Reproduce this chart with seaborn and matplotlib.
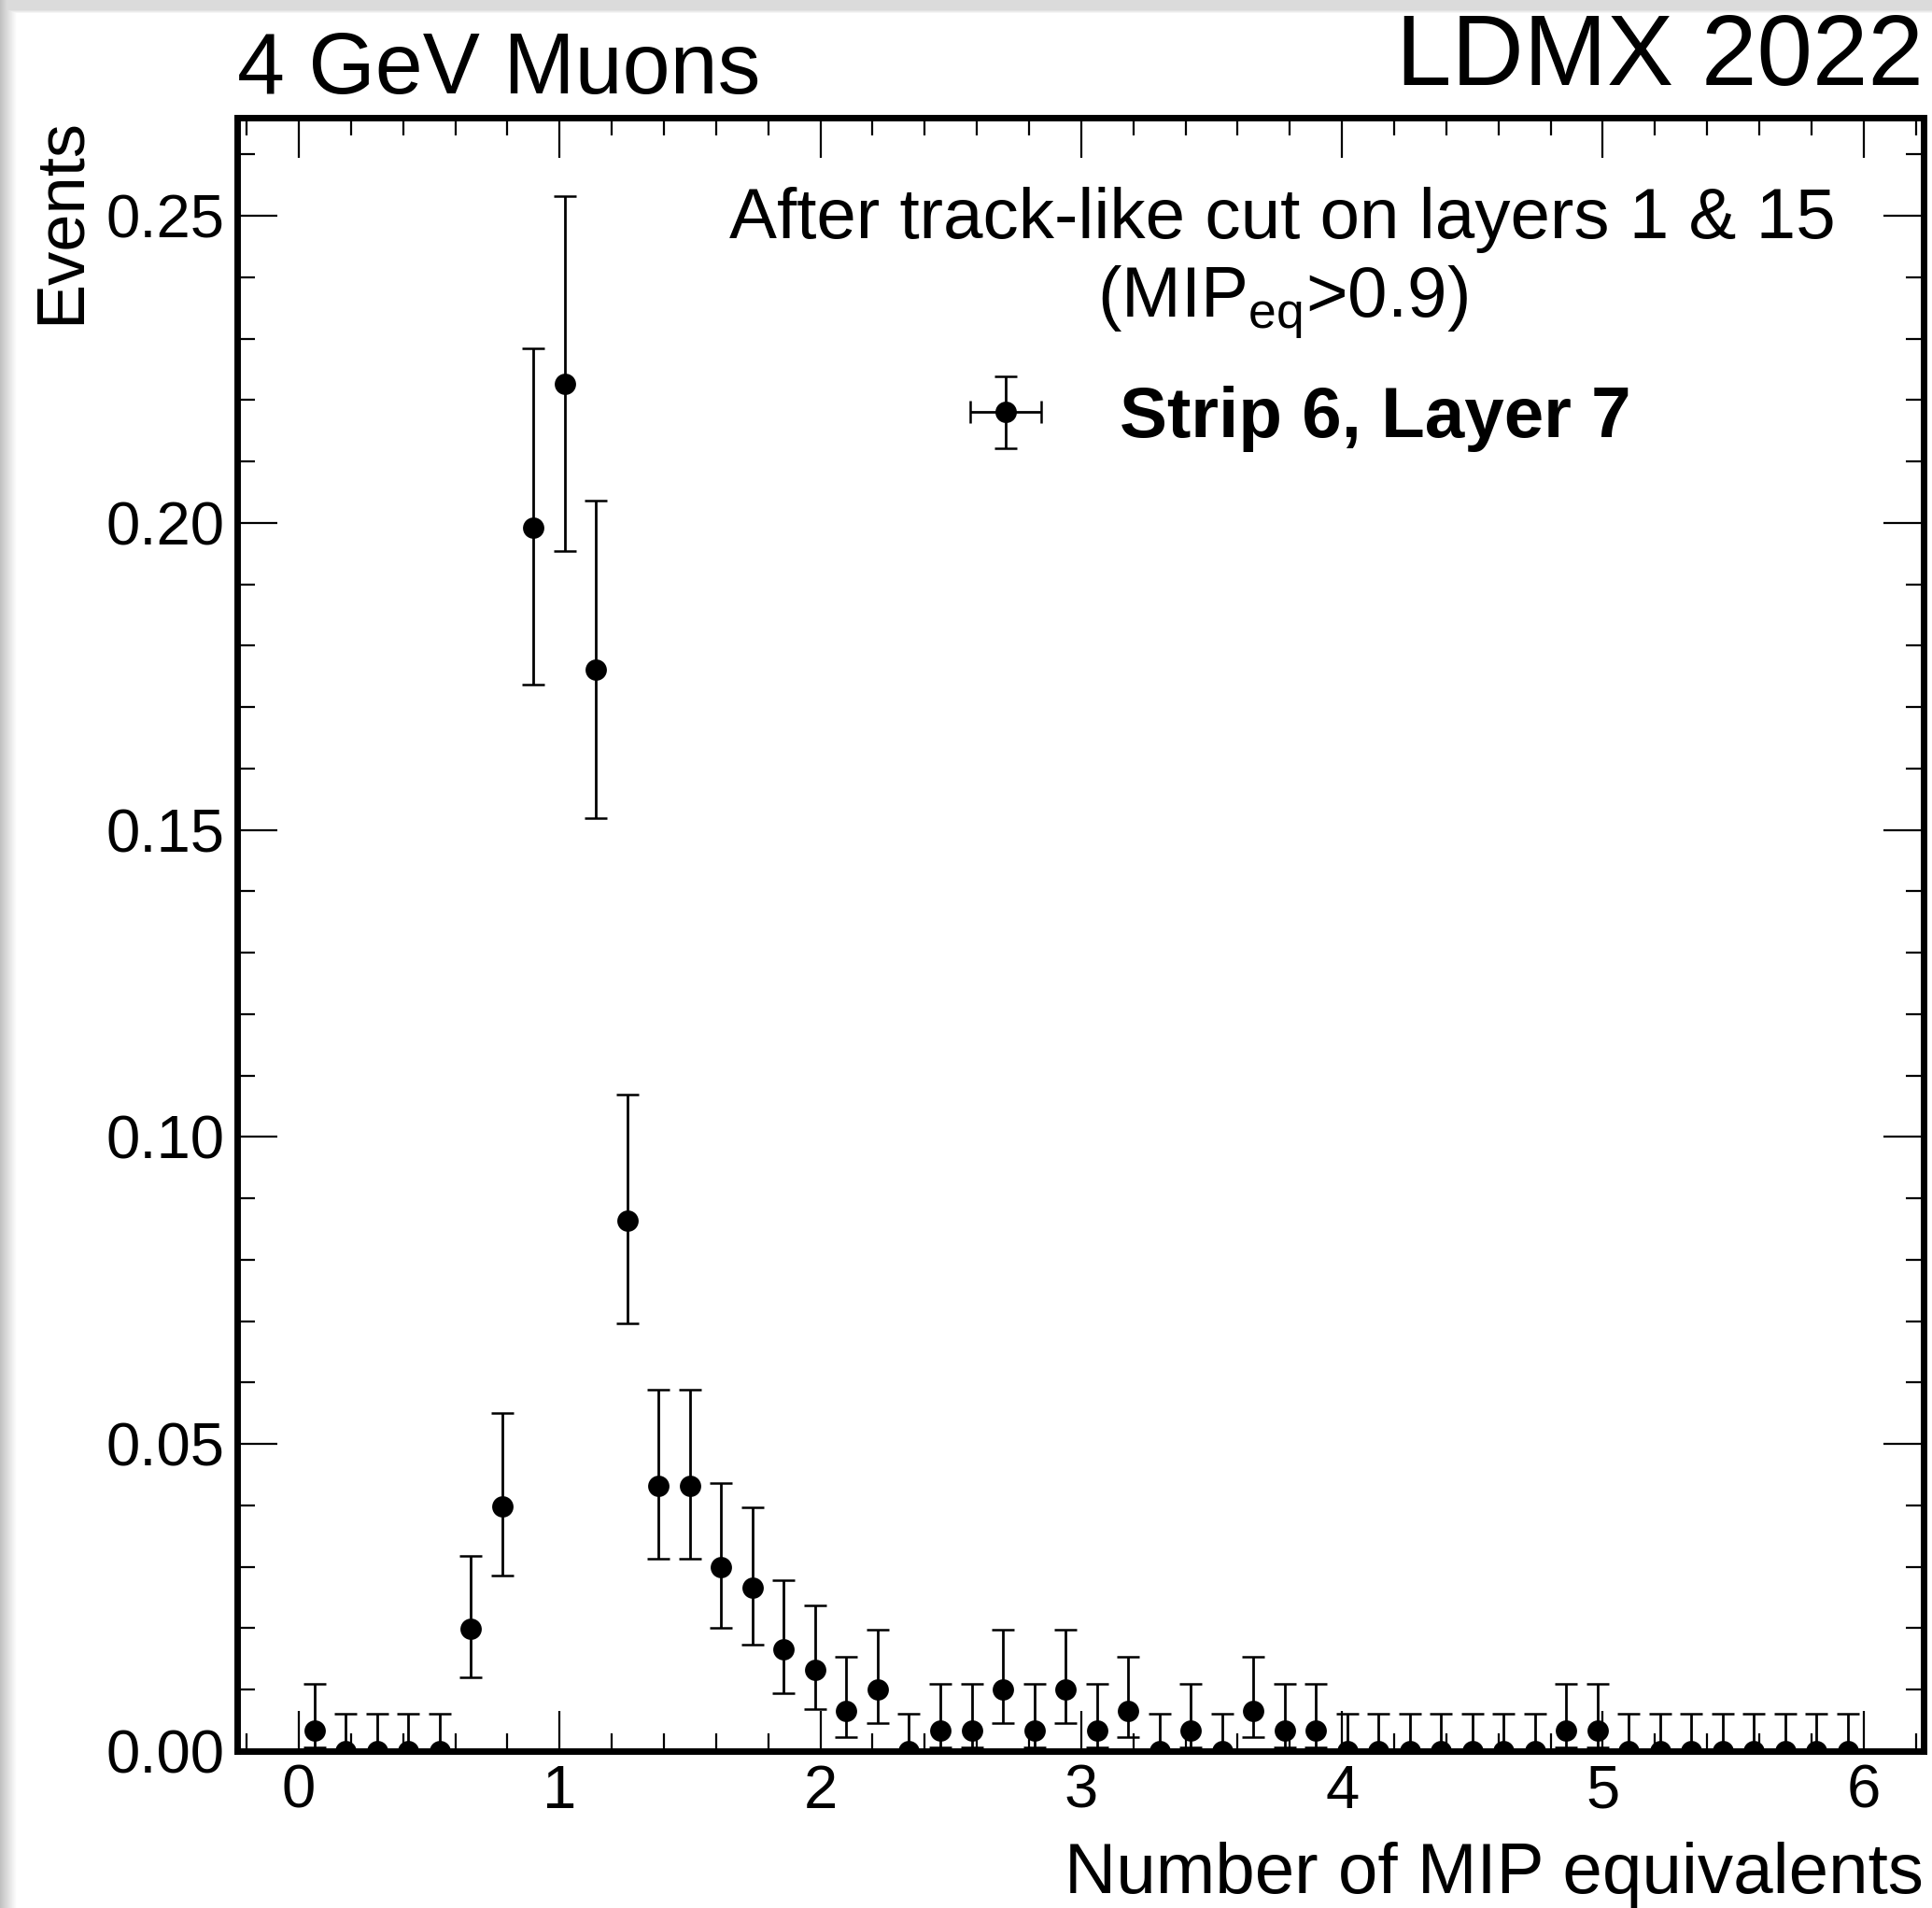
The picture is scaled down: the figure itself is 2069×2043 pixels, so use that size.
import numpy as np
import matplotlib
matplotlib.use("Agg")
import matplotlib.pyplot as plt
import seaborn as sns
from matplotlib.lines import Line2D
from matplotlib.container import ErrorbarContainer
from matplotlib.ticker import MultipleLocator, FormatStrFormatter

# 50 equal-width bins of MIP equivalents between 0 and 6
bin_edges = np.linspace(0.0, 6.0, 51)

# normalised event fraction per bin
events = np.array([
    0.0033, 0.0, 0.0, 0.0, 0.0, 0.0199, 0.0399, 0.1993, 0.2226, 0.1761,
    0.0864, 0.0432, 0.0432, 0.0299, 0.0266, 0.0166, 0.0133, 0.0066, 0.0100, 0.0,
    0.0033, 0.0033, 0.0100, 0.0033, 0.0100, 0.0033, 0.0066, 0.0, 0.0033, 0.0,
    0.0066, 0.0033, 0.0033, 0.0, 0.0, 0.0, 0.0, 0.0, 0.0, 0.0,
    0.0033, 0.0033, 0.0, 0.0, 0.0, 0.0, 0.0, 0.0, 0.0, 0.0,
])

# asymmetric (Poisson) uncertainties, downward and upward
err_low = np.array([
    0.0027, 0.0, 0.0, 0.0, 0.0, 0.0079, 0.0113, 0.0256, 0.0271, 0.0241,
    0.0168, 0.0118, 0.0118, 0.0098, 0.0092, 0.0072, 0.0064, 0.0043, 0.0054, 0.0,
    0.0027, 0.0027, 0.0054, 0.0027, 0.0054, 0.0027, 0.0043, 0.0, 0.0027, 0.0,
    0.0043, 0.0027, 0.0027, 0.0, 0.0, 0.0, 0.0, 0.0, 0.0, 0.0,
    0.0027, 0.0027, 0.0, 0.0, 0.0, 0.0, 0.0, 0.0, 0.0, 0.0,
])
err_high = np.array([
    0.0076, 0.0061, 0.0061, 0.0061, 0.0061, 0.0119, 0.0151, 0.0292, 0.0306, 0.0276,
    0.0205, 0.0156, 0.0156, 0.0137, 0.0131, 0.0112, 0.0105, 0.0088, 0.0097, 0.0061,
    0.0076, 0.0076, 0.0097, 0.0076, 0.0097, 0.0076, 0.0088, 0.0061, 0.0076, 0.0061,
    0.0088, 0.0076, 0.0076, 0.0061, 0.0061, 0.0061, 0.0061, 0.0061, 0.0061, 0.0061,
    0.0076, 0.0076, 0.0061, 0.0061, 0.0061, 0.0061, 0.0061, 0.0061, 0.0061, 0.0061,
])

series_label = "Strip 6, Layer 7"
legend_title = "After track-like cut on layers 1 & 15\n(MIP$_{\\mathrm{eq}}$>0.9)"
left_title = "4 GeV Muons"
right_title = "LDMX 2022"
x_label = "Number of MIP equivalents"
y_label = "Events"

sns.set_style("ticks")
plt.rcParams.update({
    "mathtext.fontset": "custom",
    "mathtext.rm": "Liberation Sans",
    "mathtext.it": "Liberation Sans:italic",
    "mathtext.bf": "Liberation Sans:bold",
    "axes.linewidth": 5,
    "axes.edgecolor": "black",
    "text.color": "black",
    "axes.labelcolor": "black",
    "xtick.color": "black",
    "ytick.color": "black",
})
plt.rcParams["font.family"] = ["Liberation Sans", "DejaVu Sans"]

W, H = 2069, 2043
fig = plt.figure(figsize=(W / 100, H / 100), dpi=100)

# soft grey drop shadow along the top and left border
rows = np.arange(H)[:, None]
cols = np.arange(W)[None, :]
top_band = np.where(rows < 10, 0.86, np.clip(0.86 + (rows - 10) * 0.035, 0.86, 1.0))
left_band = np.clip(0.76 + cols * 0.014, 0.76, 1.0)
shade = np.broadcast_to(np.minimum(top_band, left_band), (H, W))
fig.figimage(np.dstack([shade] * 3), xo=0, yo=0, zorder=-5, origin="upper")

ax = fig.add_axes([254 / W, 1 - 1875 / H, (2060 - 254) / W, (1875 - 126) / H])
ax.set_facecolor("white")

centers = 0.5 * (bin_edges[:-1] + bin_edges[1:])

eb = ax.errorbar(centers, events, yerr=[err_low, err_high], fmt="none",
                 ecolor="black", elinewidth=2.0, capsize=8.5, capthick=1.8, zorder=2)
sns.scatterplot(x=centers, y=events, ax=ax, color="black", s=270,
                linewidth=0, marker="o", zorder=3, legend=False)

ax.set_xlim(-0.236, 6.23)
ax.set_ylim(0.0, 0.266)
ax.xaxis.set_major_locator(MultipleLocator(1))
ax.xaxis.set_minor_locator(MultipleLocator(0.2))
ax.yaxis.set_major_locator(MultipleLocator(0.05))
ax.yaxis.set_minor_locator(MultipleLocator(0.01))
ax.yaxis.set_major_formatter(FormatStrFormatter("%.2f"))

ax.tick_params(which="major", direction="in", length=31, width=1.6,
               top=True, right=True, labelsize=47, pad=10)
ax.tick_params(which="minor", direction="in", length=14, width=1.6,
               top=True, right=True)
ax.tick_params(axis="y", which="major", pad=10)

for s in ax.spines.values():
    s.set_linewidth(5)
    s.set_visible(True)

ax.set_xlabel(x_label, fontsize=55, loc="right")
ax.xaxis.set_label_coords(1.0, -0.0555)
ax.set_ylabel(y_label, fontsize=52, loc="top")
ax.yaxis.set_label_coords(-0.0855, 1.0)

ax.text(0.0, 1.015, left_title, transform=ax.transAxes, ha="left", va="baseline", fontsize=66)
ax.text(1.0, 1.020, right_title, transform=ax.transAxes, ha="right", va="baseline", fontsize=77)

marker_proxy = Line2D([], [], ls="none", marker="o", color="black", markersize=15.5)
handle = ErrorbarContainer((marker_proxy, eb.lines[1], eb.lines[2]),
                           has_xerr=True, has_yerr=True, label=series_label)
leg = ax.legend([handle], [series_label], title=legend_title,
                loc="upper center", bbox_to_anchor=(0.62, 0.997),
                frameon=False, prop={"size": 55, "weight": "bold"},
                title_fontproperties={"size": 55}, alignment="center",
                handletextpad=0.6, borderpad=0.4, labelspacing=0.64)
leg.get_title().set_multialignment("center")

fig.savefig("out.png", dpi=100)
